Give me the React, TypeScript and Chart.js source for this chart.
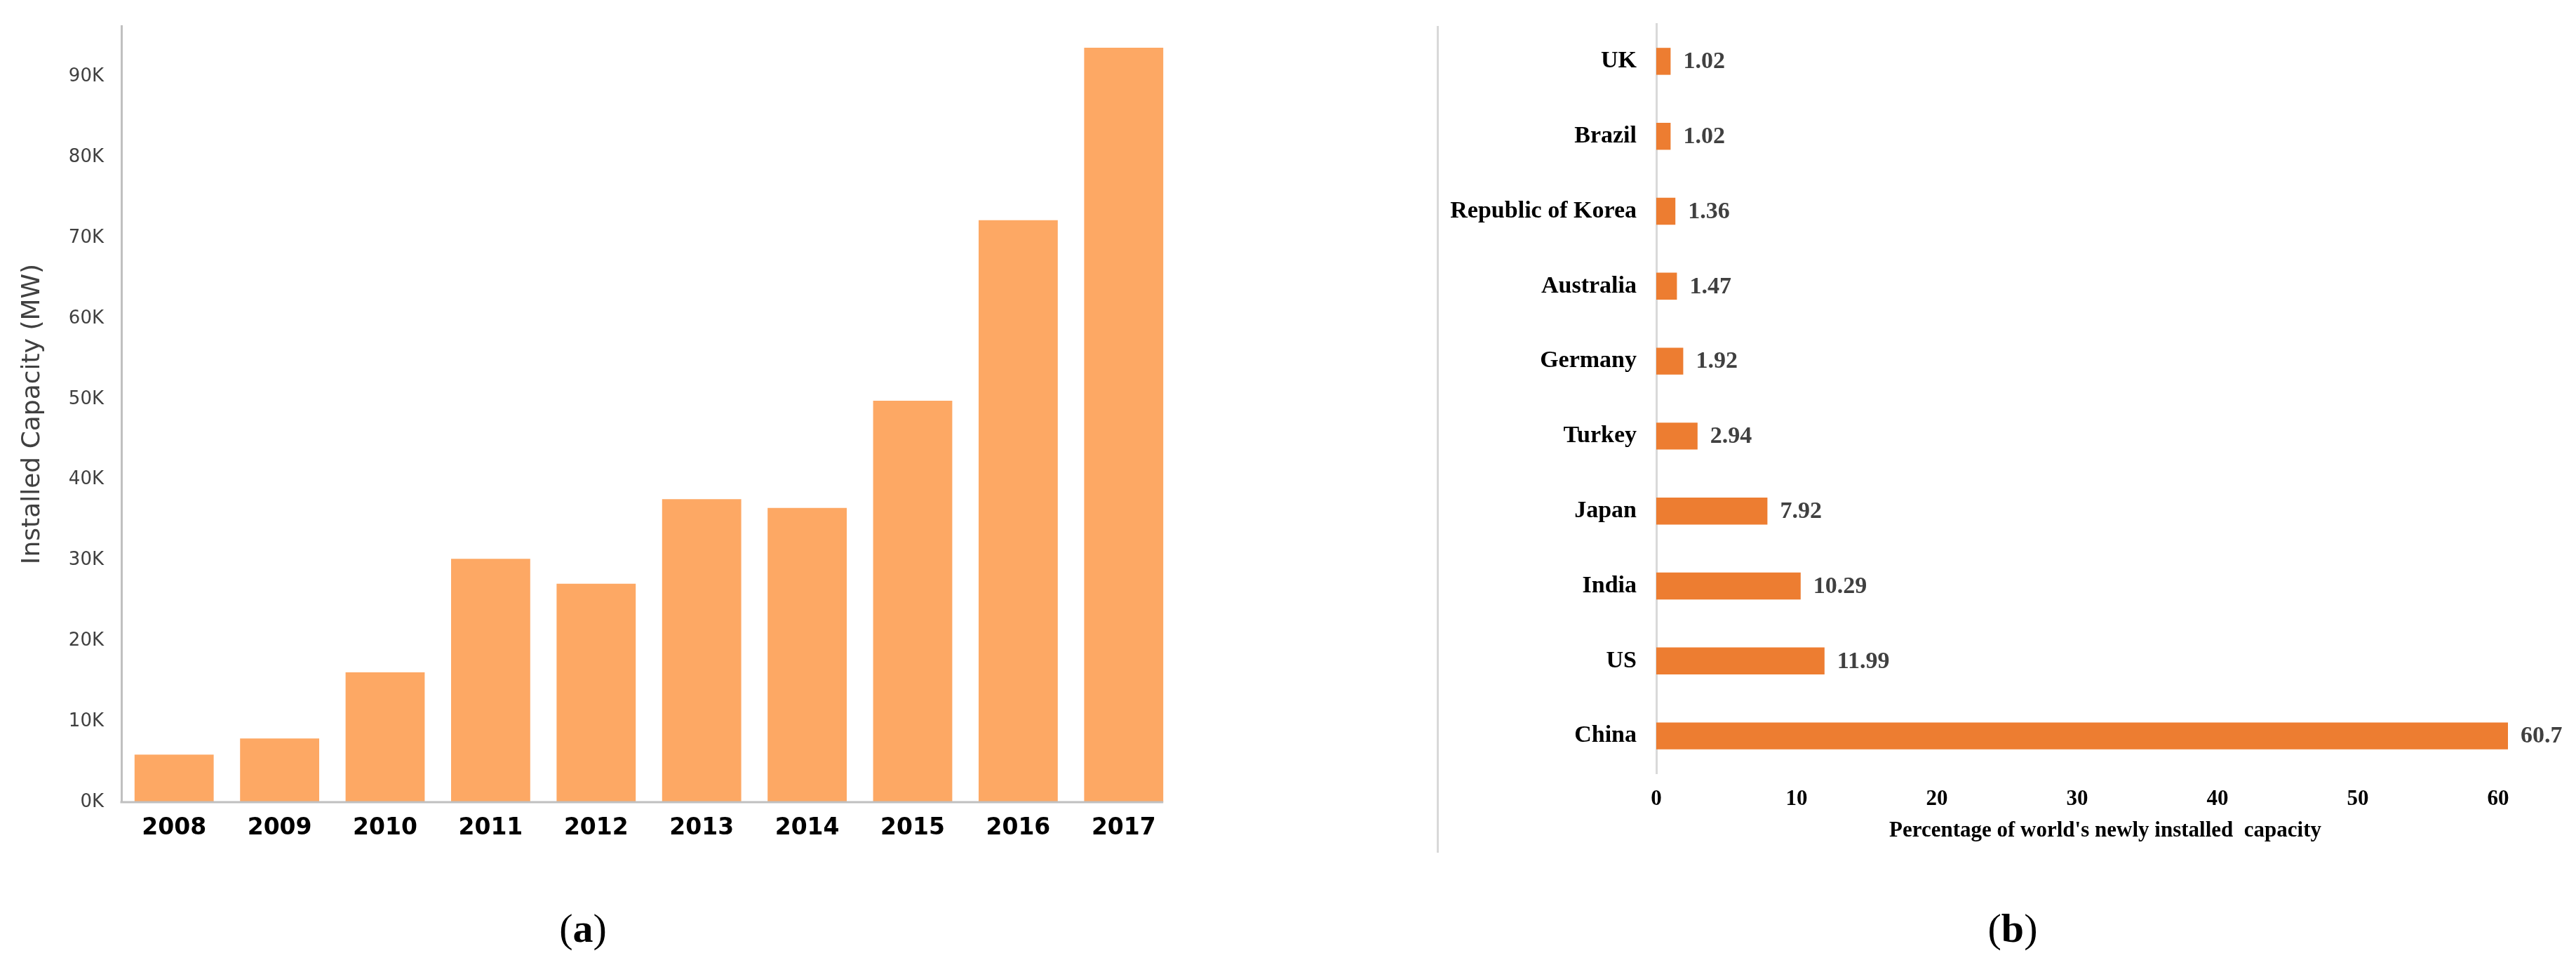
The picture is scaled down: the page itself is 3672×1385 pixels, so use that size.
import React, { useEffect, useRef } from "react";
import { Chart, registerables } from "chart.js";

Chart.register(...registerables);

// ---- Panel (a) data ----
const years = ["2008", "2009", "2010", "2011", "2012", "2013", "2014", "2015", "2016", "2017"];
const capacityMW = [5900, 7900, 16100, 30200, 27100, 37600, 36500, 49800, 72200, 93600];
const capacityTicks = [0, 10000, 20000, 30000, 40000, 50000, 60000, 70000, 80000, 90000];
const capacityAxisMax = 96300;

// ---- Panel (b) data ----
const countries = ["UK", "Brazil", "Republic of Korea", "Australia", "Germany", "Turkey", "Japan", "India", "US", "China"];
const sharePercent = [1.02, 1.02, 1.36, 1.47, 1.92, 2.94, 7.92, 10.29, 11.99, 60.7];
const shareLabels = ["1.02", "1.02", "1.36", "1.47", "1.92", "2.94", "7.92", "10.29", "11.99", "60.7"];
const shareTicks = [0, 10, 20, 30, 40, 50, 60];
const shareAxisMax = 64;

const valueLabelPlugin = {
  id: "valueLabels",
  afterDatasetsDraw(chart: any) {
    const ctx = chart.ctx;
    const meta = chart.getDatasetMeta(0);
    ctx.save();
    ctx.font = "bold 34px 'Liberation Serif'";
    ctx.fillStyle = "#404040";
    ctx.textAlign = "left";
    ctx.textBaseline = "middle";
    meta.data.forEach((el: any, i: number) => {
      ctx.fillText(shareLabels[i], el.x + 18, el.y + 1);
    });
    ctx.restore();
  },
};

// x axis line of panel (a): runs from the y axis to the right edge of the last bar
const baselinePlugin = {
  id: "baseline",
  afterDatasetsDraw(chart: any) {
    const ctx = chart.ctx;
    const meta = chart.getDatasetMeta(0);
    const last = meta.data[meta.data.length - 1];
    const area = chart.chartArea;
    ctx.save();
    ctx.strokeStyle = "#c0c0c0";
    ctx.lineWidth = 3;
    ctx.beginPath();
    ctx.moveTo(area.left - 1.5, area.bottom);
    ctx.lineTo(last.x + last.width / 2, area.bottom);
    ctx.stroke();
    ctx.restore();
  },
};

const noScalePadding = (s: any) => {
  s.paddingTop = 0;
  s.paddingBottom = 0;
  s.paddingLeft = 0;
  s.paddingRight = 0;
};

function CapacityChart() {
  const ref = useRef<HTMLCanvasElement>(null);
  useEffect(() => {
    if (!ref.current) return;
    const chart = new Chart(ref.current, {
      type: "bar",
      data: {
        labels: years,
        datasets: [
          {
            data: capacityMW,
            backgroundColor: "#FDA864",
            categoryPercentage: 1,
            barPercentage: 0.75,
          },
        ],
      },
      plugins: [baselinePlugin],
      options: {
        responsive: false,
        animation: false,
        devicePixelRatio: 1,
        layout: { padding: { top: 37, right: 13, left: 0, bottom: 0 } },
        plugins: { legend: { display: false }, tooltip: { enabled: false } },
        scales: {
          x: {
            grid: { display: false, drawTicks: false },
            border: { display: false },
            ticks: {
              font: { family: "'DejaVu Sans'", size: 33, weight: "bold" },
              color: "#000000",
              padding: 18,
            },
            afterFit: (s: any) => {
              s.height = 107;
              noScalePadding(s);
            },
          },
          y: {
            min: 0,
            max: capacityAxisMax,
            grid: { display: false, drawTicks: false },
            border: { color: "#c0c0c0", width: 3 },
            afterBuildTicks: (s: any) => {
              s.ticks = capacityTicks.map((v) => ({ value: v }));
            },
            ticks: {
              callback: (v: any) => Number(v) / 1000 + "K",
              font: { family: "'DejaVu Sans'", size: 26 },
              color: "#404040",
              padding: 25,
            },
            title: {
              display: true,
              text: "Installed Capacity (MW)",
              font: { family: "'DejaVu Sans'", size: 36 },
              color: "#404040",
              padding: { top: 25, bottom: 0 },
            },
            afterFit: (s: any) => {
              s.width = 173;
              noScalePadding(s);
            },
          },
        },
      } as any,
    });
    return () => chart.destroy();
  }, []);
  return <canvas ref={ref} width={1690} height={1250} style={{ position: "absolute", left: 0, top: 0 }} />;
}

function ShareChart() {
  const ref = useRef<HTMLCanvasElement>(null);
  useEffect(() => {
    if (!ref.current) return;
    const chart = new Chart(ref.current, {
      type: "bar",
      data: {
        labels: countries,
        datasets: [
          {
            data: sharePercent,
            backgroundColor: "#ED7D31",
            categoryPercentage: 1,
            barPercentage: 0.36,
          },
        ],
      },
      plugins: [valueLabelPlugin],
      options: {
        indexAxis: "y",
        responsive: false,
        animation: false,
        devicePixelRatio: 1,
        layout: { padding: { top: 34, right: 31, left: 0, bottom: 0 } },
        plugins: { legend: { display: false }, tooltip: { enabled: false } },
        scales: {
          x: {
            min: 0,
            max: shareAxisMax,
            grid: { display: false, drawTicks: false },
            border: { display: false },
            afterBuildTicks: (s: any) => {
              s.ticks = shareTicks.map((v) => ({ value: v }));
            },
            ticks: {
              font: { family: "'Liberation Serif'", size: 31, weight: "bold" },
              color: "#000000",
              padding: 18,
            },
            title: {
              display: true,
              text: "Percentage of world's newly installed  capacity",
              font: { family: "'Liberation Serif'", size: 31, weight: "bold" },
              color: "#000000",
              padding: { top: 0, bottom: 47 },
            },
            afterFit: (s: any) => {
              s.height = 148;
              noScalePadding(s);
            },
          },
          y: {
            grid: { display: false, drawTicks: false },
            border: { color: "#d9d9d9", width: 3 },
            ticks: {
              font: { family: "'Liberation Serif'", size: 34, weight: "bold" },
              color: "#000000",
              padding: 28,
            },
            afterFit: (s: any) => {
              s.width = 301;
              noScalePadding(s);
            },
          },
        },
      } as any,
    });
    return () => chart.destroy();
  }, []);
  return <canvas ref={ref} width={1612} height={1250} style={{ position: "absolute", left: 2060, top: 0 }} />;
}

export default function App() {
  const caption: React.CSSProperties = {
    position: "absolute",
    top: 1290,
    width: 200,
    textAlign: "center",
    fontFamily: "'Liberation Serif', serif",
    fontSize: 58,
    lineHeight: "66px",
    color: "#000",
  };
  return (
    <div style={{ position: "absolute", left: 0, top: 0, width: 3672, height: 1385, background: "#fff", overflow: "hidden" }}>
      <CapacityChart />
      <div style={{ position: "absolute", left: 2048, top: 37, width: 3, height: 1178, background: "#d9d9d9" }} />
      <ShareChart />
      <div style={{ ...caption, left: 831 - 100 }}>
        (<b>a</b>)
      </div>
      <div style={{ ...caption, left: 2869 - 100 }}>
        (<b>b</b>)
      </div>
    </div>
  );
}
